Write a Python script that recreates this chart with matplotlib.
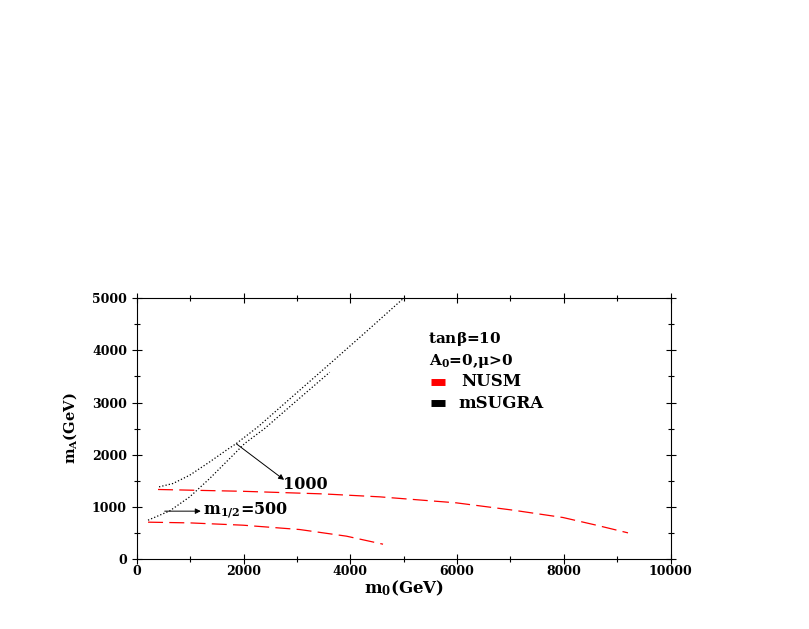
import matplotlib.pyplot as plt

# m1/2 = 1000, mSUGRA (black dotted)
sugra1000_m0 = [418, 680, 993, 1367, 1679, 1866, 2271, 3000, 3614, 4300, 5000]
sugra1000_mA = [1385, 1450, 1609, 1864, 2088, 2216, 2535, 3190, 3740, 4360, 5000]
# m1/2 = 500, mSUGRA (black dotted)
sugra500_m0 = [212, 618, 993, 1367, 1742, 2022, 2397, 3000, 3614]
sugra500_mA = [747, 925, 1194, 1546, 1929, 2216, 2504, 3040, 3580]
# m1/2 = 1000, NUSM (red dashed)
nusm1000_m0 = [399, 2000, 3500, 4551, 5987, 7048, 7984, 8609, 9201]
nusm1000_mA = [1335, 1300, 1250, 1194, 1079, 939, 798, 651, 504]
# m1/2 = 500, NUSM (red dashed)
nusm500_m0 = [212, 1000, 1991, 3052, 3927, 4613]
nusm500_mA = [709, 695, 651, 568, 441, 287]

plt.rcParams.update({
    "font.family": ["DejaVu Serif"],
    "font.weight": "bold",
    "font.size": 9,
    "mathtext.fontset": "custom",
    "mathtext.rm": "DejaVu Serif:bold",
    "mathtext.it": "DejaVu Serif:bold",
    "mathtext.bf": "DejaVu Serif:bold",
})

fig = plt.figure(figsize=(8.09, 6.29), dpi=100)
ax = fig.add_axes([0.169, 0.111, 0.66, 0.415])

dash = (0, (12, 5))
ax.plot(sugra1000_m0, sugra1000_mA, color='black', ls=':', lw=0.9)
ax.plot(sugra500_m0, sugra500_mA, color='black', ls=':', lw=0.9)
ax.plot(nusm1000_m0, nusm1000_mA, color='red', ls=dash, lw=0.9)
ax.plot(nusm500_m0, nusm500_mA, color='red', ls=dash, lw=0.9)

ax.set_xlim(0, 10000)
ax.set_ylim(0, 5000)
ax.set_xticks(range(0, 10001, 2000))
ax.set_xticks(range(1000, 10000, 2000), minor=True)
ax.set_yticks(range(0, 5001, 1000))
ax.set_yticks(range(500, 5000, 1000), minor=True)
ax.tick_params(which='both', direction='inout', top=True, right=True,
               width=0.8, labelsize=9)
ax.tick_params(which='major', length=7)
ax.tick_params(which='minor', length=5)
ax.tick_params(axis='x', which='major', pad=1)
for lab in ax.get_xticklabels() + ax.get_yticklabels():
    lab.set_fontweight('bold')
for sp in ax.spines.values():
    sp.set_linewidth(0.8)

ax.set_xlabel(r'm$_{\mathregular{0}}$(GeV)', fontsize=12, fontweight='bold', labelpad=0)
ax.set_ylabel(r'm$_{\mathregular{A}}$(GeV)', fontsize=10.5, fontweight='bold', labelpad=9)

# text block
ax.text(0.545, 0.83, r'tan$\beta$=10', transform=ax.transAxes, fontsize=11,
        fontweight='bold')
ax.text(0.548, 0.745, r'A$_{\mathregular{0}}$=0,$\mu$>0', transform=ax.transAxes,
        fontsize=11, fontweight='bold')
ax.plot([0.552, 0.578], [0.68, 0.68], transform=ax.transAxes, color='red', lw=5,
        solid_capstyle='butt')
ax.plot([0.552, 0.578], [0.598, 0.598], transform=ax.transAxes, color='black', lw=5,
        solid_capstyle='butt')
ax.text(0.607, 0.68, 'NUSM', transform=ax.transAxes, fontsize=12,
        fontweight='bold', va='center')
ax.text(0.603, 0.598, 'mSUGRA', transform=ax.transAxes, fontsize=12,
        fontweight='bold', va='center')

# annotations
ax.annotate('', xy=(2760, 1520), xytext=(1866, 2210),
            arrowprops=dict(arrowstyle='-|>', color='black', lw=0.7,
                            mutation_scale=8, shrinkA=0, shrinkB=0))
ax.text(2734, 1430, '1000', fontsize=11.5, fontweight='bold',
        va='center', ha='left')
ax.annotate('', xy=(1200, 920), xytext=(524, 920),
            arrowprops=dict(arrowstyle='-|>', color='black', lw=0.7,
                            mutation_scale=8, shrinkA=0, shrinkB=0))
ax.text(1236, 920, r'm$_{\mathregular{1/2}}$=500', fontsize=11.5, fontweight='bold',
        va='center', ha='left')

fig.savefig('out.png', dpi=100)
